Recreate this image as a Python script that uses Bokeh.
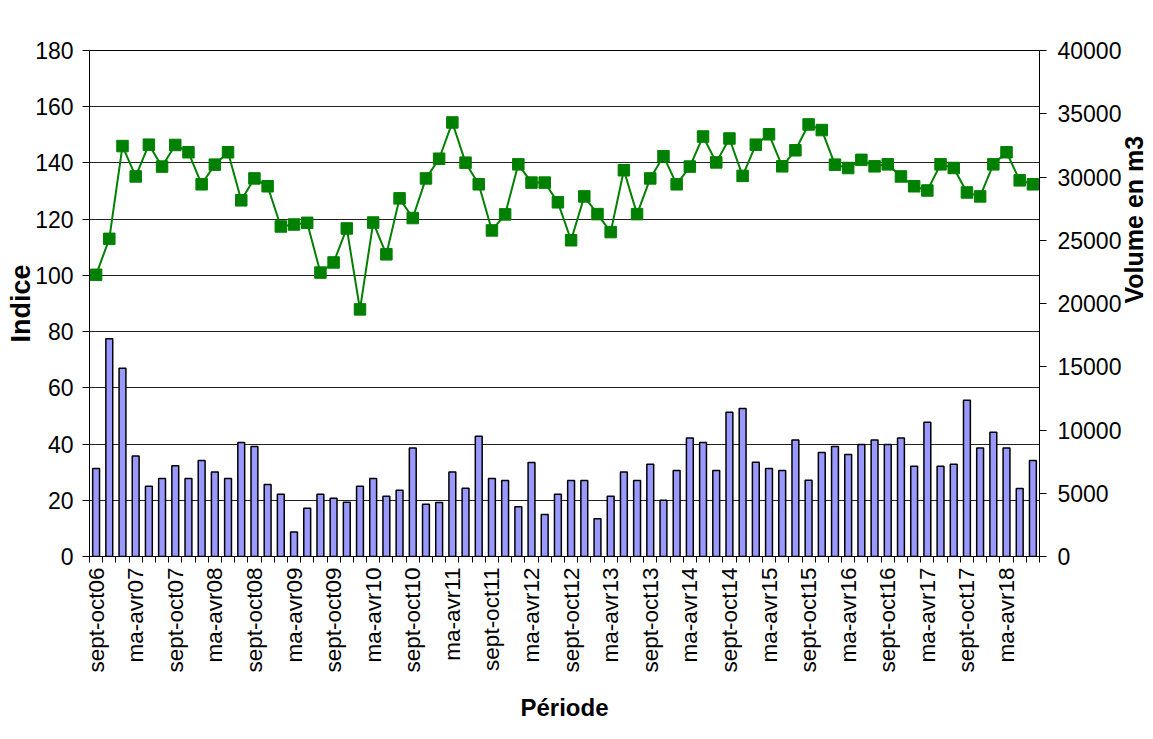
import math
from bokeh.plotting import figure
from bokeh.models import Range1d, LinearAxis, FixedTicker, ColumnDataSource
from bokeh.embed import file_html
from bokeh.resources import INLINE

# ---------------- data ----------------
periods = ["sept-oct", "nov-dec", "janv-fev", "ma-avr", "mai-juin", "juil-aout"]
categories = [f"{periods[k % 6]}{6 + (k + 4) // 6:02d}" for k in range(72)]

indice = [100.2, 113.0, 146.0, 135.2, 146.5, 138.7, 146.4, 143.8, 132.4, 139.4, 143.8, 126.7,
          134.5, 131.7, 117.4, 118.1, 118.7, 101.0, 104.6, 116.7, 87.9, 118.8, 107.5, 127.4,
          120.4, 134.5, 141.5, 154.4, 140.1, 132.4, 116.0, 121.7, 139.5, 133.0, 133.0, 126.0,
          112.5, 128.1, 121.8, 115.4, 137.4, 121.8, 134.5, 142.4, 132.4, 138.7, 149.4, 140.2,
          148.7, 135.4, 146.5, 150.2, 138.8, 144.5, 153.7, 151.7, 139.4, 138.2, 141.1, 138.8,
          139.5, 135.2, 131.7, 130.2, 139.5, 138.2, 129.5, 128.1, 139.5, 143.8, 133.8, 132.4]

volume = [6960, 17220, 14890, 7940, 5560, 6160, 7170, 6160, 7590, 6670, 6160, 9020,
          8700, 5690, 4920, 1930, 3810, 4920, 4600, 4290, 5560, 6160, 4760, 5240,
          8570, 4130, 4260, 6670, 5400, 9500, 6160, 6000, 3940, 7430, 3330, 4920,
          6000, 6000, 2990, 4760, 6670, 6000, 7300, 4440, 6800, 9370, 9020, 6800,
          11400, 11690, 7460, 6960, 6800, 9210, 6030, 8230, 8700, 8070, 8860, 9210,
          8860, 9370, 7140, 10610, 7140, 7300, 12350, 8570, 9820, 8570, 5370, 7590]

left_ticks = list(range(0, 181, 20))
right_ticks = list(range(0, 40001, 5000))
label_every = 3

# ---------------- figure ----------------
FONT = "Liberation Sans"
n = len(categories)
xs = list(range(n))

p = figure(width=1153, height=739, frame_width=950, frame_height=506,
           output_backend="svg", toolbar_location=None,
           x_range=Range1d(-0.5, n - 0.5), y_range=Range1d(0, 180),
           min_border_left=89, min_border_right=114, min_border_top=50, min_border_bottom=183,
           background_fill_color="white", border_fill_color="white")
p.styles = {"overflow": "hidden"}
p.extra_y_ranges = {"vol": Range1d(0, 40000)}
p.outline_line_color = "black"
p.outline_line_width = 1

src = ColumnDataSource(dict(x=xs, indice=indice, volume=volume, cat=categories))

bars = p.vbar(x="x", top="volume", width=0.52, source=src, y_range_name="vol",
              fill_color="#9999FF", line_color="black", line_width=1.5)
line = p.line(x="x", y="indice", source=src, line_color="#008000", line_width=2)
marks = p.scatter(x="x", y="indice", source=src, marker="square", size=11.5,
                  fill_color="#008000", line_color="#008000")

# x axis
xa = p.xaxis[0]
label_pos = xs[::label_every]
xa.ticker = FixedTicker(ticks=label_pos, minor_ticks=[i - 0.5 for i in range(n + 1)])
xa.major_label_overrides = {i: categories[i] for i in label_pos}
xa.major_label_orientation = math.pi / 2
xa.major_tick_out = 0
xa.major_tick_in = 0
xa.minor_tick_out = 6
xa.minor_tick_in = 0
xa.minor_tick_line_color = "black"
xa.axis_line_color = "black"
xa.major_label_standoff = 5
xa.major_label_text_font = FONT
xa.major_label_text_font_size = "22.5px"
xa.major_label_text_color = "black"
xa.axis_label = "Période"
xa.axis_label_text_font = FONT
xa.axis_label_text_font_style = "bold"
xa.axis_label_text_font_size = "24px"
xa.axis_label_text_color = "black"
xa.axis_label_standoff = 18

# left axis
ya = p.yaxis[0]
ya.ticker = FixedTicker(ticks=left_ticks)
ya.major_tick_out = 7
ya.major_tick_in = 0
ya.minor_tick_out = 0
ya.minor_tick_in = 0
ya.axis_line_color = "black"
ya.major_label_standoff = 9
ya.major_label_text_font = FONT
ya.major_label_text_font_size = "23px"
ya.major_label_text_color = "black"
ya.axis_label = "Indice"
ya.axis_label_text_font = FONT
ya.axis_label_text_font_style = "bold"
ya.axis_label_text_font_size = "27px"
ya.axis_label_text_color = "black"
ya.axis_label_standoff = -4

# right axis
ra = LinearAxis(y_range_name="vol", ticker=FixedTicker(ticks=right_ticks))
ra.major_tick_out = 7
ra.major_tick_in = 0
ra.minor_tick_out = 0
ra.minor_tick_in = 0
ra.axis_line_color = "black"
ra.major_label_standoff = 11
ra.major_label_text_font = FONT
ra.major_label_text_font_size = "23px"
ra.major_label_text_color = "black"
ra.axis_label = "Volume en m3"
ra.axis_label_text_font = FONT
ra.axis_label_text_font_style = "bold"
ra.axis_label_text_font_size = "25px"
ra.axis_label_text_color = "black"
ra.axis_label_standoff = 10
if hasattr(ra, "axis_label_orientation"):
    ra.axis_label_orientation = math.pi / 2
p.add_layout(ra, "right")

p.xgrid.visible = False
p.ygrid.grid_line_color = "#222222"
p.ygrid.grid_line_width = 1

open("out.html", "w").write(file_html(p, INLINE))
